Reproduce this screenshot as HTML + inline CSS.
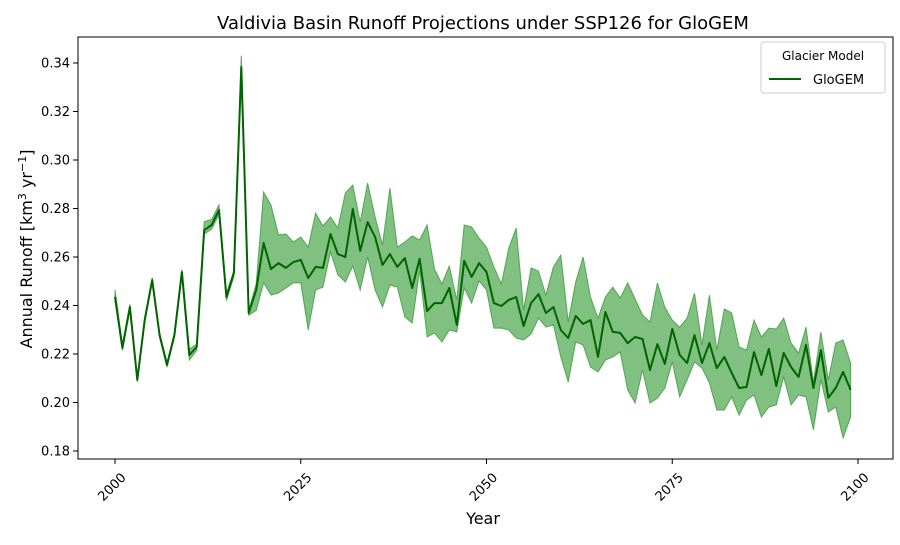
<!DOCTYPE html>
<html><head><meta charset="utf-8"><style>
body{margin:0;background:#fff;font-family:"Liberation Sans","DejaVu Sans",sans-serif;}
svg text{font-family:"DejaVu Sans","Liberation Sans",sans-serif;}
</style></head><body>
<svg id="chart" width="900" height="540" viewBox="0 0 900 540" xmlns="http://www.w3.org/2000/svg">
<rect width="900" height="540" fill="#fff"/>
<text x="483" y="29" font-size="18" text-anchor="middle" fill="#000">Valdivia Basin Runoff Projections under SSP126 for GloGEM</text>
<g id="plot"></g>
<rect x="78" y="37" width="815" height="422" fill="none" stroke="#000" stroke-width="1"/>
<g id="axes"></g>
<text x="483" y="524" font-size="16" text-anchor="middle">Year</text>
<text transform="translate(32,249) rotate(-90)" font-size="16" text-anchor="middle">Annual Runoff [km<tspan font-size="11" dy="-6">3</tspan><tspan dy="6"> yr</tspan><tspan font-size="11" dy="-6">−1</tspan><tspan dy="6">]</tspan></text>
<g>
<rect x="761" y="42" width="124" height="51" rx="3" fill="#fff" stroke="#ccc"/>
<text x="823" y="60" font-size="12" text-anchor="middle">Glacier Model</text>
<line x1="769" y1="79" x2="801" y2="79" stroke="#006400" stroke-width="2"/>
<text x="813" y="84" font-size="13">GloGEM</text>
</g>
</svg>
<script>
const startYear = 2000;
const runoff = [0.2436,0.2225,0.2394,0.2093,0.234,0.2505,0.2278,0.2155,0.2278,0.2538,0.2196,0.2229,0.2711,0.2732,0.2794,0.2435,0.2534,0.3384,0.2369,0.2464,
0.2658,0.255,0.2575,0.2555,0.2579,0.2588,0.2513,0.2559,0.2555,0.2695,0.2612,0.26,0.2798,0.2625,0.2744,0.2682,0.2567,0.2612,0.2559,0.2596,
0.2472,0.2592,0.2377,0.241,0.241,0.2472,0.232,0.2584,0.2518,0.2575,0.2538,0.241,0.2398,0.2423,0.2435,0.2315,0.241,0.2447,0.2369,0.2394,
0.2299,0.2266,0.2357,0.2324,0.234,0.2188,0.2373,0.2291,0.2287,0.2245,0.227,0.2262,0.2134,0.2241,0.2159,0.2303,0.2196,0.2163,0.2278,0.2163,
0.2245,0.2142,0.2188,0.2122,0.206,0.2064,0.2208,0.2113,0.2221,0.2068,0.2204,0.2146,0.2105,0.2237,0.206,0.2216,0.2019,0.206,0.2126,0.2052];
const upper = [0.2465,0.2240,0.2405,0.2100,0.2350,0.2515,0.2288,0.2165,0.2288,0.2548,0.2220,0.2240,0.2745,0.2755,0.2815,0.2450,0.2545,0.3430,0.2380,0.2490,
0.2868,0.2814,0.2691,0.2695,0.2662,0.2682,0.2641,0.2781,0.2728,0.2765,0.272,0.2864,0.2897,0.2744,0.2905,0.2765,0.265,0.2884,0.2641,0.2662,
0.2687,0.267,0.2732,0.255,0.2489,0.2563,0.2423,0.2732,0.2724,0.2678,0.2641,0.2559,0.2489,0.2637,0.272,0.2381,0.2555,0.2542,0.2443,0.2559,
0.2608,0.2332,0.2497,0.26,0.2435,0.2348,0.2435,0.2476,0.2431,0.2493,0.2427,0.2361,0.2332,0.2493,0.2394,0.234,0.2311,0.2348,0.2451,0.2237,
0.2443,0.2216,0.2386,0.2369,0.2229,0.2216,0.234,0.227,0.2307,0.2303,0.2348,0.2245,0.2204,0.2311,0.2084,0.2291,0.2093,0.2245,0.2258,0.2163];
const lower = [0.2420,0.2215,0.2385,0.2085,0.2330,0.2495,0.2268,0.2145,0.2268,0.2528,0.2175,0.2215,0.2695,0.2715,0.2775,0.2420,0.2520,0.3360,0.2360,0.2380,
0.2493,0.2443,0.2451,0.2472,0.2493,0.2493,0.2299,0.2464,0.2476,0.2621,0.2526,0.2497,0.2563,0.2464,0.26,0.2464,0.2394,0.2484,0.2476,0.2353,
0.2328,0.2545,0.227,0.2286,0.225,0.2299,0.2291,0.2472,0.241,0.2501,0.2464,0.2307,0.2307,0.2299,0.2266,0.2258,0.2282,0.2348,0.2311,0.232,
0.2188,0.2084,0.225,0.2237,0.2146,0.2126,0.2175,0.2188,0.2208,0.2052,0.1998,0.2134,0.1998,0.2018,0.2059,0.2167,0.2023,0.2093,0.2167,0.2142,
0.2081,0.1969,0.1969,0.2023,0.1948,0.201,0.2031,0.194,0.1981,0.199,0.2105,0.199,0.2031,0.2023,0.1887,0.2093,0.1961,0.1981,0.1854,0.194];
const xTicks = [2000,2025,2050,2075,2100];
const yTicks = [0.18,0.20,0.22,0.24,0.26,0.28,0.30,0.32,0.34];

const NS='http://www.w3.org/2000/svg';
const xs = y => 115 + (y-2000)*7.43;
const ys = v => 63 + (0.34 - v)/0.02*48.5;
function mk(tag, attrs, parent){const e=document.createElementNS(NS,tag);for(const k in attrs)e.setAttribute(k,attrs[k]);parent.appendChild(e);return e;}
const plot=document.getElementById('plot'), axes=document.getElementById('axes');
const years = runoff.map((_,i)=>startYear+i);
let d = years.map((y,i)=>(i?'L':'M')+xs(y).toFixed(1)+','+ys(upper[i]).toFixed(1)).join('');
for(let i=years.length-1;i>=0;i--) d+='L'+xs(years[i]).toFixed(1)+','+ys(lower[i]).toFixed(1);
const band=mk('path',{d:d+'Z',fill:'#80c080',stroke:'#3a9a3a','stroke-width':1,'stroke-opacity':0.8},plot);


const line=mk('path',{d:years.map((y,i)=>(i?'L':'M')+xs(y).toFixed(1)+','+ys(runoff[i]).toFixed(1)).join(''),fill:'none',stroke:'#006400','stroke-width':2,'stroke-linejoin':'round'},plot);


xTicks.forEach(t=>{
  const x=xs(t);
  const tk=mk('line',{x1:x,x2:x,y1:459,y2:464,stroke:'#000'},axes);
  
  
  const tx=mk('text',{'font-size':13,'text-anchor':'middle',transform:`translate(${x},${490}) rotate(-45)`},axes);
  tx.textContent=t;
  
  
});
yTicks.forEach(t=>{
  const y=ys(t);
  const tk=mk('line',{x1:73,x2:78,y1:y,y2:y,stroke:'#000'},axes);
  
  
  const tx=mk('text',{x:70,y:y+4.5,'font-size':13,'text-anchor':'end'},axes);
  tx.textContent=t.toFixed(2);
  
  
});
</script>
</body></html>
